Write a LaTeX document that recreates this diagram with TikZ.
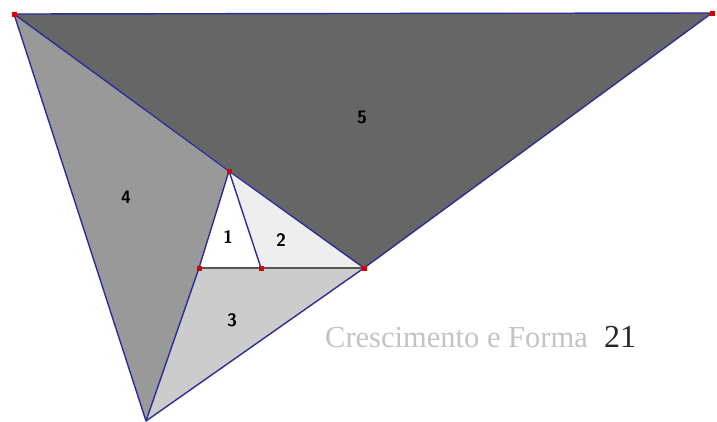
\documentclass[tikz,border=0pt]{standalone}
\usepackage{fontspec}
\newfontfamily\letraTitulo{Liberation Serif}
\usetikzlibrary{calc}
\definecolor{azulBorde}{RGB}{45,45,150}
\definecolor{grisCinco}{RGB}{102,102,102}
\definecolor{grisCuatro}{RGB}{153,153,153}
\definecolor{grisTres}{RGB}{204,204,204}
\definecolor{grisDos}{RGB}{238,238,238}
\definecolor{grisBase}{RGB}{85,85,85}
\definecolor{grisTitulo}{RGB}{195,195,195}

\begin{document}
\begin{tikzpicture}[x=1pt, y=-1pt,
    borde/.style={draw=azulBorde, line width=1.4pt, line join=round},
    etiqueta/.style={font=\sffamily\bfseries\fontsize{18}{18}\selectfont, inner sep=0pt}]
            % Marco de la figura (mismas proporciones que la original)
            \useasboundingbox (0,0) rectangle (717,421);

            % Vértices de la espiral de triángulos
            \coordinate (A) at (14,14);
            \coordinate (B) at (712,13);
            \coordinate (C) at (229,171);
            \coordinate (D) at (199,268);
            \coordinate (E) at (261,268);
            \coordinate (F) at (364,268);
            \coordinate (G) at (146,421);

            % Rellenos, del más oscuro (5) al blanco (1)
            \fill[grisCinco] (A) -- (B) -- (F) -- cycle;
            \fill[grisCuatro] (A) -- (C) -- (D) -- (G) -- cycle;
            \fill[grisTres] (D) -- (F) -- (G) -- cycle;
            \fill[grisDos] (C) -- (E) -- (F) -- cycle;
            \fill[white] (C) -- (D) -- (E) -- cycle;

            % Lados en azul
            \draw[borde] (A) -- (B) -- (F) -- (C) -- cycle;
            \draw[borde] (A) -- (G) -- (D) -- (C);
            \draw[borde] (G) -- (F);
            \draw[borde] (C) -- (E);

            % Base común de 1 y 2
            \draw[grisBase, line width=2pt] (D) -- (F);

            % Puntos rojos en los vértices
            \foreach \p in {A,B,C,D,E,F}
                \fill[red!85!black] ($(\p)+(-2.5,-2.5)$) rectangle ++(5,5);

            % Números de los triángulos
            \node[etiqueta] (n1) at (228,237) {1};
            \node[etiqueta] (n2) at (281,240) {2};
            \node[etiqueta] (n3) at (232,320) {3};
            \node[etiqueta] (n4) at (126,197) {4};
            \node[etiqueta] (n5) at (362,117) {5};

            % Pie de página
            \node[anchor=base west, inner sep=0pt, text=grisTitulo,
                font=\letraTitulo\fontsize{30.5}{30.5}\selectfont] (titulo) at (325,347) {Crescimento e Forma};
            \node[anchor=base west, inner sep=0pt, text=black!85,
                font=\letraTitulo\fontsize{32}{32}\selectfont] (pagina) at (604,347) {21};
        \end{tikzpicture}
\end{document}
